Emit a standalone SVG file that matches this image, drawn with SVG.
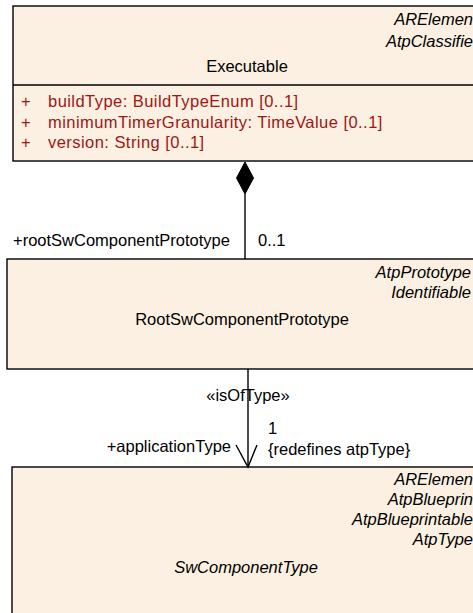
<svg xmlns="http://www.w3.org/2000/svg" width="473" height="613" viewBox="0 0 473 613">
<style>
.box{fill:#fbf0e1;stroke:#000;stroke-width:1.4}
.t{font-family:"Liberation Sans",Arial,sans-serif;font-size:16.5px;fill:#000}
.i{font-style:italic}
.e{text-anchor:end}
.m{text-anchor:middle}
.a{fill:#a01515;letter-spacing:0.45px}
.ln{stroke:#000;stroke-width:1.4;fill:none}
</style>
<rect width="473" height="613" fill="#fff"/>
<g id="executable">
<rect class="box" x="13" y="6" width="475" height="155"/>
<line class="ln" x1="13" y1="85" x2="488" y2="85"/>
<text class="t i e" x="473" y="25">ARElemen</text>
<text class="t i e" x="473" y="47">AtpClassifie</text>
<text class="t m" x="247" y="72">Executable</text>
<text class="t a" x="21" y="107">+</text>
<text class="t a" x="48" y="107">buildType: BuildTypeEnum [0..1]</text>
<text class="t a" x="21" y="128">+</text>
<text class="t a" x="48" y="128">minimumTimerGranularity: TimeValue [0..1]</text>
<text class="t a" x="21" y="148">+</text>
<text class="t a" x="48" y="148">version: String [0..1]</text>
</g>
<g id="rootSwComponentPrototype">
<rect class="box" x="7" y="259" width="475" height="110"/>
<text class="t i e" x="471" y="278">AtpPrototype</text>
<text class="t i e" x="471" y="298">Identifiable</text>
<text class="t m" x="242" y="325">RootSwComponentPrototype</text>
</g>
<g id="swComponentType">
<rect class="box" x="12" y="467" width="475" height="160"/>
<text class="t i e" x="473" y="485">ARElemen</text>
<text class="t i e" x="473" y="505">AtpBlueprin</text>
<text class="t i e" x="473" y="525">AtpBlueprintable</text>
<text class="t i e" x="473" y="545">AtpType</text>
<text class="t i m" x="246" y="573">SwComponentType</text>
</g>
<g id="connectors">
<line class="ln" x1="245" y1="194" x2="245" y2="259"/>
<path d="M245 162 L253.5 178 L245 194 L236.5 178 Z" fill="#000" stroke="#000"/>
<text class="t" x="13" y="246">+rootSwComponentPrototype</text>
<text class="t" x="258" y="246">0..1</text>
<line class="ln" x1="248" y1="369" x2="248" y2="466"/>
<path class="ln" d="M236 445 L248 467 L257 445"/>
<text class="t m" x="248" y="401">«isOfType»</text>
<text class="t" x="268" y="434">1</text>
<text class="t" x="268" y="455">{redefines atpType}</text>
<text class="t e" x="231" y="452">+applicationType</text>
</g>
</svg>
